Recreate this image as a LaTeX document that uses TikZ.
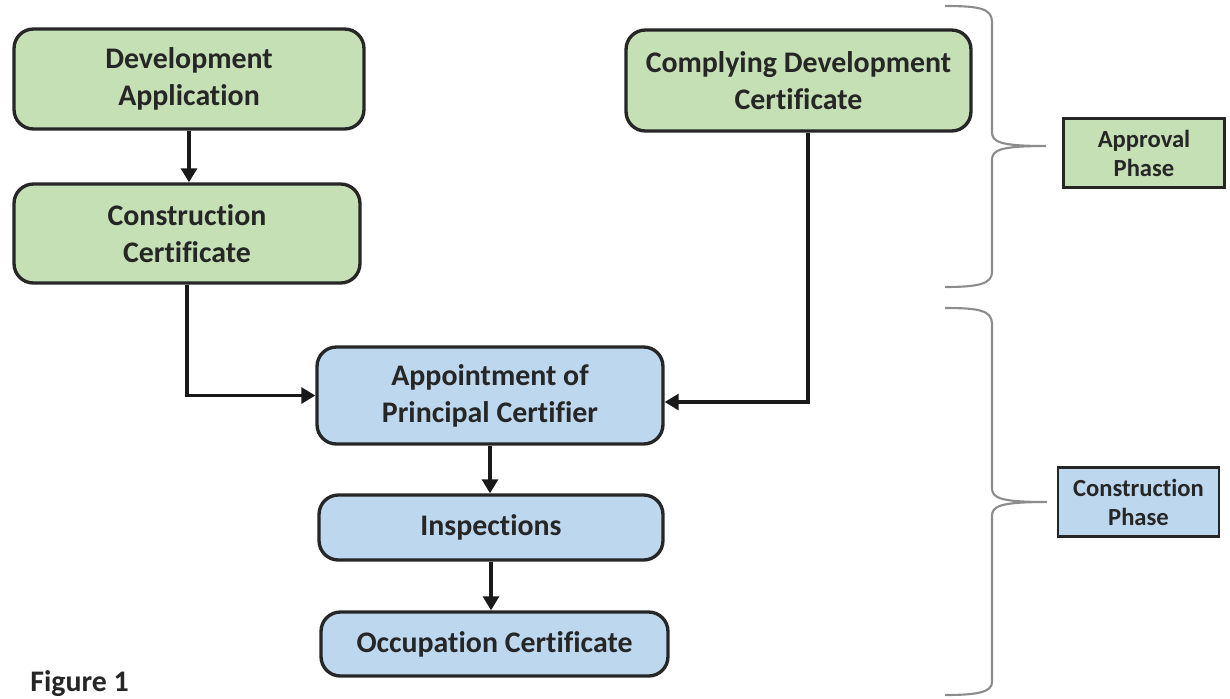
\documentclass[tikz,border=0pt]{standalone}
\usepackage{fontspec}
\setmainfont{Carlito}[Ligatures=NoCommon]
\usepackage{tikz}
\usetikzlibrary{arrows.meta,calc}
\definecolor{approvalgreen}{HTML}{C5E0B4}
\definecolor{constructblue}{HTML}{BDD7EE}
\definecolor{boxborder}{HTML}{262626}
\definecolor{bracegray}{HTML}{8C8C8C}

\begin{document}
\begin{tikzpicture}[
  x=0.02cm, y=-0.02cm,
  stage/.style={rectangle, rounded corners=11pt, draw=boxborder, line width=1.9pt,
    font=\fontsize{17}{21}\selectfont\bfseries, text=black!85, align=center, inner sep=2pt},
  approval/.style={stage, fill=approvalgreen},
  construction/.style={stage, fill=constructblue},
  phase/.style={rectangle, draw=boxborder, line width=1.6pt, text=black!85,
    font=\fontsize{14}{16.5}\selectfont\bfseries, align=center,
    minimum width=3.22cm, minimum height=1.38cm},
  arr/.style={-{Triangle[length=8pt,width=9pt]}, line width=2.2pt, black!90},
  curly/.style={draw=bracegray, line width=1.2pt}
]
  \useasboundingbox (0,0) rectangle (1230,698);

  % approval phase
  \node[approval, minimum width=7.0cm, minimum height=2.0cm] (devapp) at (189,79) {Development\\Application};
  \node[approval, minimum width=6.92cm, minimum height=1.98cm] (conscert) at (187,233.5) {Construction\\Certificate};
  \node[approval, minimum width=6.9cm, minimum height=2.02cm] (cdc) at (798.5,80.5) {Complying Development\\Certificate};

  % construction phase
  \node[construction, minimum width=6.92cm, minimum height=1.94cm] (appt) at (490,395.5) {Appointment of\\Principal Certifier};
  \node[construction, minimum width=6.88cm, minimum height=1.30cm] (insp) at (491,527.5) {Inspections};
  \node[construction, minimum width=6.94cm, minimum height=1.28cm] (occ) at (494.5,644) {Occupation Certificate};

  \draw[arr] (devapp.south) -- (devapp.south |- conscert.north);
  \draw[arr] (conscert.south) |- (appt.west);
  \draw[arr] ([xshift=0.19cm]cdc.south) |- ([yshift=-0.13cm]appt.east);
  \draw[arr] (appt.south) -- (appt.south |- insp.north);
  \draw[arr] (insp.south) -- (insp.south |- occ.north);

  % braces and phase labels
  \draw[curly] (945,6) .. controls (978,6) and (992,8) .. (992,22) -- (992,132)
    .. controls (992,142) and (1000,146) .. (1046,146)
    .. controls (1000,146) and (992,150) .. (992,160) -- (992,272)
    .. controls (992,284) and (978,287) .. (945,287);
  \draw[curly] (945,308) .. controls (978,308) and (992,310) .. (992,324) -- (992,488)
    .. controls (992,498) and (1000,502) .. (1047,502)
    .. controls (1000,502) and (992,506) .. (992,516) -- (992,682)
    .. controls (992,692) and (978,695) .. (945,695);
  \node[phase, fill=approvalgreen] (approvalphase) at (1144,153) {Approval\\Phase};
  \node[phase, fill=constructblue] (constructphase) at (1138.5,502) {Construction\\Phase};

  \node[anchor=north west, font=\fontsize{17}{21}\selectfont\bfseries, text=black!85, inner sep=0pt] (figlabel) at (30,670) {Figure 1};
\end{tikzpicture}
\end{document}
